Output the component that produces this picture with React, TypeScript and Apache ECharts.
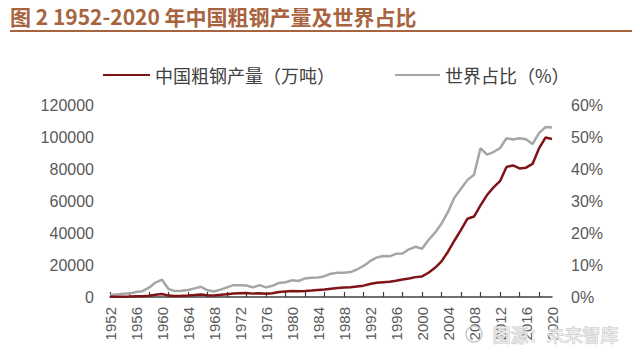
import React, { useEffect, useRef } from "react";
import * as echarts from "echarts";

const years = [
  "1952","1953","1954","1955","1956","1957","1958","1959","1960","1961",
  "1962","1963","1964","1965","1966","1967","1968","1969","1970","1971",
  "1972","1973","1974","1975","1976","1977","1978","1979","1980","1981",
  "1982","1983","1984","1985","1986","1987","1988","1989","1990","1991",
  "1992","1993","1994","1995","1996","1997","1998","1999","2000","2001",
  "2002","2003","2004","2005","2006","2007","2008","2009","2010","2011",
  "2012","2013","2014","2015","2016","2017","2018","2019","2020",
];

const production = [
  135, 177, 223, 285, 447, 535, 800, 1387, 1866, 870,
  667, 762, 964, 1223, 1532, 1029, 904, 1333, 1779, 2132,
  2338, 2522, 2112, 2390, 2046, 2374, 3178, 3448, 3712, 3560,
  3716, 4002, 4347, 4679, 5221, 5628, 5943, 6159, 6635, 7100,
  8094, 8956, 9261, 9536, 10124, 10894, 11559, 12426, 12850, 15163,
  18237, 22234, 28291, 35324, 41915, 48929, 50306, 57218, 63723, 68528,
  72388, 81314, 82231, 80383, 80837, 83173, 92826, 99634, 98800,
];

const worldShare = [
  0.64, 0.75, 1.0, 1.06, 1.58, 1.83, 2.92, 4.5, 5.4, 2.5,
  1.85, 1.97, 2.2, 2.7, 3.2, 2.1, 1.7, 2.3, 3.0, 3.7,
  3.7, 3.6, 3.0, 3.7, 3.0, 3.5, 4.4, 4.6, 5.2, 5.0,
  5.8, 6.0, 6.1, 6.5, 7.3, 7.6, 7.6, 7.8, 8.6, 9.7,
  11.2, 12.3, 12.8, 12.7, 13.5, 13.6, 14.9, 15.7, 15.1, 17.8,
  20.1, 22.9, 26.6, 31.1, 33.8, 36.6, 38.2, 46.5, 44.5, 45.3,
  46.5, 49.6, 49.2, 49.6, 49.3, 47.8, 51.2, 53.1, 53.0,
];

const seriesNames = ["中国粗钢产量（万吨）", "世界占比（%）"];
const titleText = "图 2 1952-2020 年中国粗钢产量及世界占比";
const watermarkText = "图源：未来智库";

export default function App() {
  const ref = useRef<HTMLDivElement>(null);

  useEffect(() => {
    if (!ref.current) return;
    const chart = echarts.init(ref.current, undefined, { renderer: "svg" });
    const labelFont = "'Liberation Sans', Arial, sans-serif";
    const cjkFont = "'Noto Sans CJK SC', sans-serif";
    chart.setOption({
      animation: false,
      backgroundColor: "#ffffff",
      grid: { left: 110, right: 88, top: 105, bottom: 62, containLabel: false },
      legend: [
        {
          data: [seriesNames[0]],
          left: 98,
          top: 61,
          icon: "rect",
          itemWidth: 47,
          itemHeight: 2,
          itemGap: 8,
          textStyle: { fontSize: 18, color: "#404040", fontFamily: cjkFont },
        },
        {
          data: [seriesNames[1]],
          left: 390,
          top: 61,
          icon: "rect",
          itemWidth: 45,
          itemHeight: 2,
          textStyle: { fontSize: 18, color: "#404040", fontFamily: cjkFont },
        },
      ],
      xAxis: {
        type: "category",
        data: years,
        boundaryGap: false,
        axisLine: { show: true, lineStyle: { color: "#404040", width: 1.5 } },
        axisTick: {
          show: true,
          inside: true,
          length: 5,
          interval: 2,
          lineStyle: { color: "#404040", width: 1.2 },
        },
        axisLabel: {
          interval: 3,
          rotate: 90,
          margin: 10,
          fontSize: 15,
          color: "#595959",
          fontFamily: labelFont,
        },
        splitLine: { show: false },
      },
      yAxis: [
        {
          type: "value",
          min: 0,
          max: 120000,
          interval: 20000,
          axisLine: { show: false },
          axisTick: { show: false },
          splitLine: { show: false },
          axisLabel: {
            fontSize: 16,
            color: "#595959",
            margin: 16,
            fontFamily: labelFont,
            formatter: (v: number) => String(v),
          },
        },
        {
          type: "value",
          min: 0,
          max: 60,
          interval: 10,
          position: "right",
          axisLine: { show: false },
          axisTick: { show: false },
          splitLine: { show: false },
          axisLabel: {
            fontSize: 16,
            color: "#595959",
            margin: 19,
            formatter: "{value}%",
            fontFamily: labelFont,
          },
        },
      ],
      series: [
        {
          name: seriesNames[1],
          type: "line",
          yAxisIndex: 1,
          data: worldShare,
          symbol: "none",
          lineStyle: { color: "#A6A6A6", width: 2.5 },
          itemStyle: { color: "#A6A6A6" },
          z: 2,
        },
        {
          name: seriesNames[0],
          type: "line",
          yAxisIndex: 0,
          data: production,
          symbol: "none",
          lineStyle: { color: "#7F1416", width: 2.5 },
          itemStyle: { color: "#7F1416" },
          z: 3,
        },
      ],
      graphic: [
        {
          type: "text",
          left: 10,
          top: 5,
          style: {
            text: titleText,
            fontSize: 21,
            fontWeight: "bold",
            fill: "#A8643F",
            fontFamily: cjkFont,
          },
        },
        {
          type: "line",
          shape: { x1: 10, y1: 31, x2: 640, y2: 31 },
          style: { stroke: "#A8643F", lineWidth: 2 },
        },
        {
          type: "circle",
          shape: { cx: 474, cy: 334, r: 8 },
          style: { fill: "none", stroke: "#C8C8C8", lineWidth: 1.5 },
          z: 100,
        },
        {
          type: "text",
          left: 492,
          top: 324,
          style: {
            text: watermarkText,
            fontSize: 18,
            fill: "rgba(255,255,255,0.6)",
            stroke: "#C8C8C8",
            lineWidth: 1,
            fontFamily: cjkFont,
          },
          z: 100,
        },
      ],
    });
    return () => chart.dispose();
  }, []);

  return <div ref={ref} style={{ width: 640, height: 359, margin: -8 }} />;
}
